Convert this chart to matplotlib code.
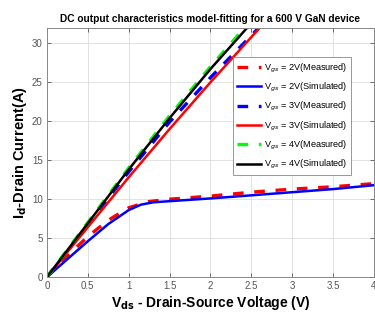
import matplotlib
import numpy as np

matplotlib.use("Agg")
import matplotlib.pyplot as plt  # noqa: E402

plt.rcParams["font.family"] = ["Liberation Sans", "DejaVu Sans"]

# Vgs = 2 V
v2_meas = [0, 0.25, 0.5, 0.75, 1.0, 1.25, 1.5, 2.0, 2.5, 3.0, 3.5, 4.0]
i2_meas = [0, 2.7, 5.2, 7.3, 8.9, 9.7, 10.0, 10.4, 10.9, 11.3, 11.6, 12.0]
v2_sim = [0, 0.25, 0.5, 0.75, 1.0, 1.15, 1.3, 1.5, 2.0, 2.5, 3.0, 3.5, 4.0]
i2_sim = [0, 2.3, 4.6, 6.8, 8.6, 9.3, 9.6, 9.75, 10.1, 10.5, 10.9, 11.3, 11.8]
# Vgs = 3 V
v3 = [0, 0.5, 1.0, 1.5, 2.0, 2.5, 2.7]
i3_meas = [0, 6.8, 13.5, 19.9, 25.6, 31.0, 33.2]
i3_sim = [0, 6.4, 12.8, 19.0, 25.0, 30.8, 33.1]
# Vgs = 4 V
v4 = [0, 0.5, 1.0, 1.5, 2.0, 2.5, 2.6]
i4_meas = [0, 7.0, 14.0, 20.7, 27.0, 33.0, 34.3]
i4_sim = [0, 6.9, 13.8, 20.4, 26.7, 32.6, 33.8]

DASH = (0, (3.2, 3.2))

fig = plt.figure(figsize=(3.75, 3.2), dpi=100)
ax = fig.add_axes([0.125, 0.134, 0.872, 0.779])

ax.plot(v2_meas, i2_meas, color="#ff0000", lw=2.4, ls=DASH, label=r"V$_{gs}$ = 2V(Measured)")
ax.plot(v2_sim, i2_sim, color="#0000ff", lw=1.8, label=r"V$_{gs}$ = 2V(Simulated)")
ax.plot(v3, i3_meas, color="#0000ff", lw=2.4, ls=DASH, label=r"V$_{gs}$ = 3V(Measured)")
ax.plot(v3, i3_sim, color="#ff0000", lw=1.8, label=r"V$_{gs}$ = 3V(Simulated)")
ax.plot(v4, i4_meas, color="#00ff00", lw=2.4, ls=DASH, label=r"V$_{gs}$ = 4V(Measured)")
ax.plot(v4, i4_sim, color="#000000", lw=1.8, label=r"V$_{gs}$ = 4V(Simulated)")

ax.set_xlim(0, 4)
ax.set_ylim(0, 32)
ax.set_xticks(np.arange(0, 4.01, 0.5))
ax.set_xticklabels(["0", "0.5", "1", "1.5", "2", "2.5", "3", "3.5", "4"])
ax.set_yticks(np.arange(0, 31, 5))
ax.tick_params(direction="in", top=True, right=True, length=3, width=0.6,
               labelsize=7, colors="#555555", pad=3)
ax.grid(True, color="#dddddd", lw=0.6)
ax.set_axisbelow(True)
for s in ax.spines.values():
    s.set_color("#888888")
    s.set_linewidth(0.7)

ax.set_title("DC output characteristics model-fitting for a 600 V GaN device",
             fontsize=7.3, fontweight="bold", pad=4)
ax.set_xlabel(r"V$_{\mathbf{ds}}$ - Drain-Source Voltage (V)", fontsize=10, fontweight="bold", labelpad=2)
ax.set_ylabel(r"I$_{\mathbf{d}}$-Drain Current(A)", fontsize=10.5, fontweight="bold", labelpad=2)

leg = ax.legend(loc="upper right", bbox_to_anchor=(0.945, 0.9), fontsize=6.6,
                handlelength=2.6, handletextpad=0.3, labelspacing=0.68,
                borderpad=0.45, fancybox=False, framealpha=1, edgecolor="#888888")
leg.get_frame().set_linewidth(0.6)

fig.savefig("out.png", dpi=100)
